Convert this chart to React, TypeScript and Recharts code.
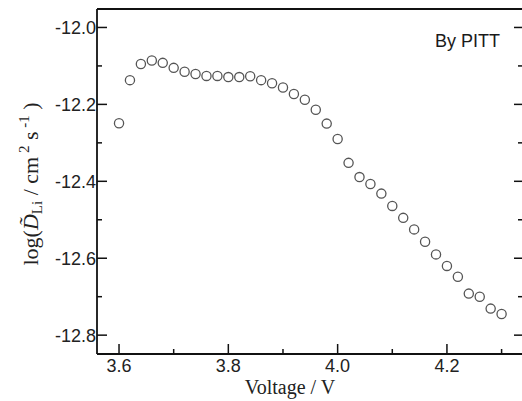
import React from 'react';
import { ScatterChart, Scatter, XAxis, YAxis } from 'recharts';

// PITT diffusion coefficients
const voltage = [
  3.60, 3.62, 3.64, 3.66, 3.68, 3.70, 3.72, 3.74, 3.76, 3.78, 3.80, 3.82,
  3.84, 3.86, 3.88, 3.90, 3.92, 3.94, 3.96, 3.98, 4.00, 4.02, 4.04, 4.06,
  4.08, 4.10, 4.12, 4.14, 4.16, 4.18, 4.20, 4.22, 4.24, 4.26, 4.28, 4.30,
];
const logD = [
  -12.249, -12.137, -12.095, -12.086, -12.092, -12.105, -12.115, -12.121, -12.126, -12.126, -12.129, -12.129,
  -12.127, -12.137, -12.145, -12.156, -12.173, -12.188, -12.214, -12.250, -12.290, -12.352, -12.389, -12.407,
  -12.432, -12.464, -12.495, -12.525, -12.557, -12.590, -12.620, -12.648, -12.692, -12.700, -12.731, -12.745,
];
const xMajor = [3.6, 3.8, 4.0, 4.2];
const xMinor = [3.7, 3.9, 4.1, 4.3];
const yMajor = [-12.8, -12.6, -12.4, -12.2, -12.0];
const yMinor = [-12.7, -12.5, -12.3, -12.1];

const data = voltage.map((v, i) => ({ v, d: logD[i] }));
const xTicks = [...xMajor, ...xMinor].sort((a, b) => a - b);
const yTicks = [...yMajor, ...yMinor].sort((a, b) => a - b);

const isMajor = (list: number[], val: number) => list.some((t) => Math.abs(t - val) < 1e-6);

const tickFont = { fontFamily: '"Liberation Sans", Arial, sans-serif', fontSize: 18, fill: '#222' };
const ink = '#111';

const BottomTick = (props: any) => {
  const { x, y, payload } = props;
  const major = isMajor(xMajor, payload.value);
  return (
    <g>
      <line x1={x} x2={x} y1={y} y2={y - (major ? 10 : 5)} stroke={ink} strokeWidth={1.5} />
      {major && (
        <text x={x} y={y + 18} textAnchor="middle" {...tickFont}>
          {payload.value.toFixed(1)}
        </text>
      )}
    </g>
  );
};

const TopTick = (props: any) => {
  const { x, y, payload } = props;
  const major = isMajor(xMajor, payload.value);
  return <line x1={x} x2={x} y1={y} y2={y + (major ? 10 : 6)} stroke={ink} strokeWidth={1.5} />;
};

const LeftTick = (props: any) => {
  const { x, y, payload } = props;
  const major = isMajor(yMajor, payload.value);
  return (
    <g>
      <line x1={x} x2={x + (major ? 10 : 5)} y1={y} y2={y} stroke={ink} strokeWidth={1.5} />
      {major && (
        <text x={x - 1} y={y} dy="0.36em" textAnchor="end" {...tickFont}>
          {payload.value.toFixed(1)}
        </text>
      )}
    </g>
  );
};

const RightTick = (props: any) => {
  const { x, y, payload } = props;
  const major = isMajor(yMajor, payload.value);
  return <line x1={x} x2={x - (major ? 10 : 6)} y1={y} y2={y} stroke={ink} strokeWidth={1.5} />;
};

const OpenCircle = (props: any) => (
  <circle cx={props.cx} cy={props.cy} r={4.6} fill="none" stroke="#555" strokeWidth={1.3} />
);

const serif = '"Liberation Serif", "Times New Roman", serif';
const xDomain = [3.5597, 4.341];
const yDomain = [-12.849, -11.952];

export default function App() {
  return (
    <div style={{ position: 'fixed', left: 0, top: 0, width: 522, height: 401, overflow: 'hidden', background: '#fff' }}>
      <ScatterChart width={525} height={401} margin={{ top: 8, right: 0, bottom: 46, left: 96 }}>
        <XAxis
          xAxisId="x"
          dataKey="v"
          type="number"
          domain={xDomain}
          allowDataOverflow
          ticks={xTicks}
          interval={0}
          height={1}
          tickSize={0}
          tickMargin={0}
          tickLine={false}
          axisLine={{ stroke: ink, strokeWidth: 1.8 }}
          tick={BottomTick}
        />
        <XAxis
          xAxisId="xt"
          orientation="top"
          type="number"
          domain={xDomain}
          allowDataOverflow
          ticks={xTicks}
          interval={0}
          height={1}
          tickSize={0}
          tickMargin={0}
          tickLine={false}
          axisLine={{ stroke: ink, strokeWidth: 1.8 }}
          tick={TopTick}
        />
        <YAxis
          yAxisId="y"
          dataKey="d"
          type="number"
          domain={yDomain}
          allowDataOverflow
          ticks={yTicks}
          interval={0}
          width={1}
          tickSize={0}
          tickMargin={0}
          tickLine={false}
          axisLine={{ stroke: ink, strokeWidth: 1.8 }}
          tick={LeftTick}
        />
        <YAxis
          yAxisId="yr"
          orientation="right"
          type="number"
          domain={yDomain}
          allowDataOverflow
          ticks={yTicks}
          interval={0}
          width={1}
          tickSize={0}
          tickMargin={0}
          tickLine={false}
          axisLine={{ stroke: ink, strokeWidth: 1.8 }}
          tick={RightTick}
        />
        <Scatter xAxisId="x" yAxisId="y" data={data} shape={OpenCircle} isAnimationActive={false} />
      </ScatterChart>
      <svg width={522} height={401} style={{ position: 'absolute', left: 0, top: 0, pointerEvents: 'none' }}>
        <text x={500} y={47} textAnchor="end" {...tickFont} fill="#1a1a1a">
          By PITT
        </text>
        <text x={290} y={394} textAnchor="middle" fontFamily={serif} fontSize={20} fill="#222">
          Voltage / V
        </text>
        <text
          transform="translate(38,184) rotate(-90)"
          textAnchor="middle"
          fontFamily={serif}
          fontSize={22}
          fill="#222"
        >
          <tspan>log(</tspan>
          <tspan fontStyle="italic">{'D\u0303'}</tspan>
          <tspan fontSize={15} dy={4}>Li</tspan>
          <tspan dy={-4}> / cm</tspan>
          <tspan fontSize={15} dy={-9}> 2</tspan>
          <tspan dy={9}> s</tspan>
          <tspan fontSize={15} dy={-9}> -1</tspan>
          <tspan dy={9}> )</tspan>
        </text>
      </svg>
    </div>
  );
}
